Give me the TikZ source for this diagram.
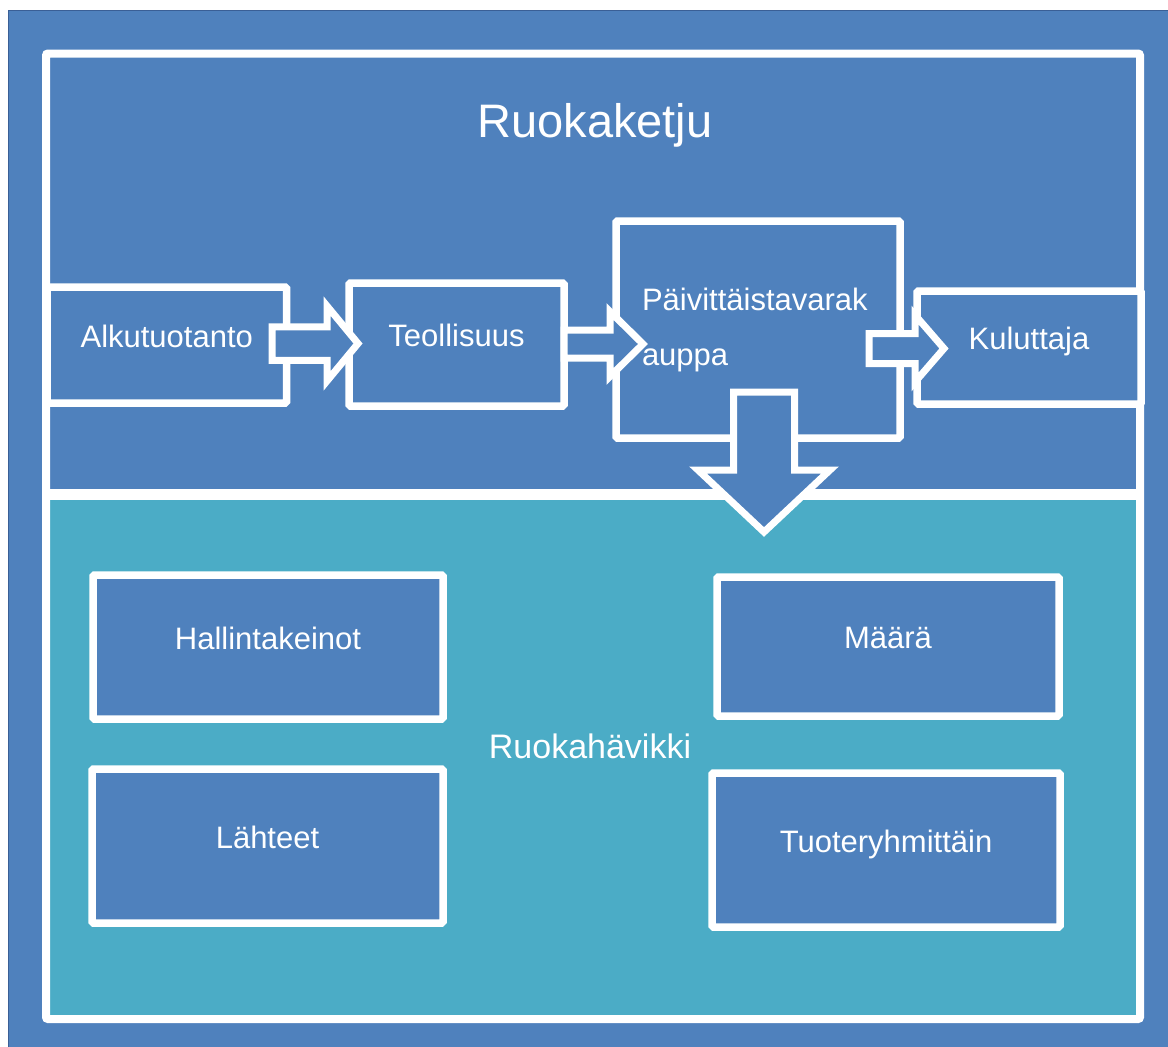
\documentclass[tikz,border=0pt]{standalone}
\usepackage{fontspec}
\setmainfont{Liberation Sans}
\usetikzlibrary{calc}
\definecolor{ofblue}{RGB}{79,129,189}
\definecolor{ofteal}{RGB}{75,172,198}
\definecolor{edgeblue}{RGB}{58,95,150}
\newcommand\harrow[5]{\draw[blockarr] ($(#1)+(0,#3)$) -- ($(#2)+(-#5,#3)$) -- ($(#2)+(-#5,#4)$) -- (#2) -- ($(#2)+(-#5,-#4)$) -- ($(#2)+(-#5,-#3)$) -- ($(#1)+(0,-#3)$) -- cycle;}
\newcommand\varrow[5]{\draw[blockarr] ($(#1)+(#3,0)$) -- ($(#2)+(#3,-#5)$) -- ($(#2)+(#4,-#5)$) -- (#2) -- ($(#2)+(-#4,-#5)$) -- ($(#2)+(-#3,-#5)$) -- ($(#1)+(-#3,0)$) -- cycle;}
\begin{document}
\begin{tikzpicture}[x=1pt,y=-1pt,
  boxbase/.style={draw=white,line width=7.5pt,fill=ofblue,rounded corners=1.5pt,text=white,inner sep=0pt,outer sep=0pt},
  wbox/.style={boxbase,font=\fontsize{31}{37}\selectfont,text height=4pt,text depth=0pt},
  blockarr/.style={draw=white,line width=7pt,fill=ofblue,line join=miter},
  bigtext/.style={text=white,anchor=base,inner sep=0pt}]
\useasboundingbox (0,0) rectangle (1168,1047);
\fill[white] (0,0) rectangle (1168,1047);
\fill[ofblue] (8,10) rectangle (1168,1047);
\draw[edgeblue,line width=1.2pt] (8.6,1047) -- (8.6,10.6) -- (1168,10.6);
\fill[ofteal] (46,494) rectangle (1140,1019);
\draw[white,line width=8pt,rounded corners=2pt] (46,53.5) rectangle (1140,1019);
\draw[white,line width=11pt] (46,494) -- (1140,494);
\node[bigtext,font=\fontsize{47}{56}\selectfont] (title) at (595,137) {Ruokaketju};
\node[bigtext,font=\fontsize{34}{40}\selectfont] (waste) at (590,758) {Ruokahävikki};
% chain boxes
\node[wbox,minimum width=239.5pt,minimum height=116pt] (alk) at (166.75,345) {Alkutuotanto};
\node[wbox,minimum width=215pt,minimum height=123pt] (teo) at (456.5,344.5) {Teollisuus};
\node[boxbase,minimum width=284pt,minimum height=217pt,align=left,text width=232pt,font=\fontsize{31}{55}\selectfont] (pai) at (758,329.5) {Päivittäistavarak\\auppa};
\node[wbox,minimum width=224pt,minimum height=113pt] (kul) at (1029,347.5) {Kuluttaja};
% waste boxes
\node[wbox,minimum width=350pt,minimum height=144pt] (hal) at (268,647) {Hallintakeinot};
\node[wbox,minimum width=351pt,minimum height=154pt] (lah) at (267.5,846) {Lähteet};
\node[wbox,minimum width=342pt,minimum height=139pt] (maa) at (888,646.5) {Määrä};
\node[wbox,minimum width=348pt,minimum height=154pt] (tuo) at (886,850) {Tuoteryhmittäin};
% arrows
\coordinate (a1s) at (272,343.5);
\coordinate (a1e) at (358,343.5);
\coordinate (a2s) at (564,344);
\coordinate (a2e) at (643,344);
\coordinate (a3s) at (869,348.5);
\coordinate (a3e) at (944,348.5);
\coordinate (a4s) at (764,392);
\coordinate (a4e) at (764,532);
\harrow{a1s}{a1e}{16.75}{37.5}{31}
\harrow{a2s}{a2e}{14}{32.5}{33}
\harrow{a3s}{a3e}{15}{33.5}{29}
\varrow{a4s}{a4e}{30.5}{66}{62}
\end{tikzpicture}
\end{document}
